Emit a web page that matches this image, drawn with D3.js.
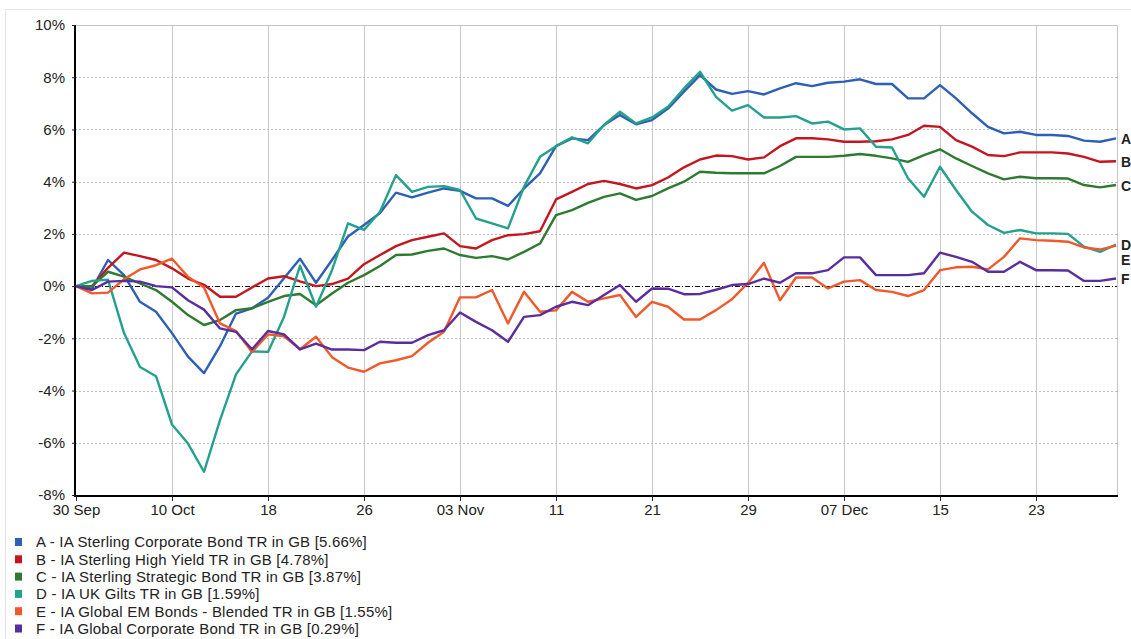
<!DOCTYPE html>
<html>
<head>
<meta charset="utf-8">
<script src="https://cdn.jsdelivr.net/npm/d3@7"></script>
<style>
  body { margin: 0; background: #fff; }
  svg { display: block; font-family: "Liberation Sans", Arial, sans-serif; }
</style>
</head>
<body>
<svg id="chart" width="1131" height="639"></svg>
<script>
// tick labels on the date axis (one tick every 6 trading days)
const tickIdx = [0, 6, 12, 18, 24, 30, 36, 42, 48, 54, 60];
const tickLabels = ['30 Sep', '10 Oct', '18', '26', '03 Nov', '11', '21', '29', '07 Dec', '15', '23'];
const yTicks = [10, 8, 6, 4, 2, 0, -2, -4, -6, -8];

const codes = ['A', 'B', 'C', 'D', 'E', 'F'];
const names = [
    'A - IA Sterling Corporate Bond TR in GB [5.66%]',
    'B - IA Sterling High Yield TR in GB [4.78%]',
    'C - IA Sterling Strategic Bond TR in GB [3.87%]',
    'D - IA UK Gilts TR in GB [1.59%]',
    'E - IA Global EM Bonds - Blended TR in GB [1.55%]',
    'F - IA Global Corporate Bond TR in GB [0.29%]'
];
const colors = ['#2c5fb5', '#c3161f', '#2f7a30', '#24a08d', '#f0592a', '#5a2d9f'];

// cumulative total return, % (one value per trading day)
const seriesA = [0, -0.1, 1.0, 0.42, -0.6, -0.98, -1.8, -2.7, -3.33, -2.3,
    -1.05, -0.85, -0.45, 0.3, 1.05, 0.13, 1.0, 1.9, 2.34, 2.8,
    3.58, 3.4, 3.58, 3.74, 3.65, 3.36, 3.36, 3.07, 3.74, 4.32,
    5.36, 5.66, 5.59, 6.17, 6.55, 6.2, 6.36, 6.8, 7.45, 8.08,
    7.53, 7.36, 7.47, 7.34, 7.57, 7.77, 7.66, 7.79, 7.83, 7.92,
    7.74, 7.74, 7.19, 7.19, 7.7, 7.19, 6.62, 6.1, 5.85, 5.91,
    5.79, 5.79, 5.75, 5.57, 5.53, 5.66];
const seriesB = [0, 0.0, 0.7, 1.28, 1.15, 1.0, 0.68, 0.29, 0.05, -0.41,
    -0.41, -0.05, 0.29, 0.38, 0.18, 0.0, 0.08, 0.29, 0.84, 1.19,
    1.53, 1.76, 1.89, 2.02, 1.53, 1.44, 1.76, 1.95, 1.99, 2.1,
    3.32, 3.61, 3.91, 4.03, 3.91, 3.74, 3.87, 4.16, 4.55, 4.85,
    5.0, 4.98, 4.85, 4.93, 5.36, 5.66, 5.66, 5.62, 5.53, 5.53,
    5.55, 5.62, 5.79, 6.14, 6.1, 5.59, 5.34, 5.02, 4.98, 5.12,
    5.12, 5.12, 5.08, 4.95, 4.76, 4.78];
const seriesC = [0, 0.0, 0.55, 0.36, 0.1, -0.15, -0.6, -1.11, -1.49, -1.3,
    -0.92, -0.85, -0.6, -0.38, -0.3, -0.73, -0.28, 0.13, 0.42, 0.77,
    1.19, 1.21, 1.35, 1.44, 1.19, 1.08, 1.15, 1.02, 1.31, 1.63,
    2.72, 2.91, 3.19, 3.42, 3.55, 3.3, 3.45, 3.74, 4.0, 4.38,
    4.34, 4.32, 4.32, 4.32, 4.6, 4.95, 4.95, 4.95, 4.99, 5.06,
    4.99, 4.89, 4.76, 5.02, 5.24, 4.89, 4.6, 4.32, 4.09, 4.19,
    4.13, 4.13, 4.12, 3.87, 3.78, 3.87];
const seriesD = [0, 0.2, 0.25, -1.8, -3.1, -3.45, -5.3, -6.03, -7.11, -5.13,
    -3.38, -2.5, -2.52, -1.18, 0.78, -0.79, 0.61, 2.4, 2.15, 2.85,
    4.25, 3.61, 3.8, 3.83, 3.68, 2.59, 2.4, 2.21, 3.8, 4.95,
    5.36, 5.7, 5.47, 6.17, 6.68, 6.23, 6.46, 6.87, 7.57, 8.21,
    7.25, 6.72, 6.93, 6.46, 6.46, 6.51, 6.23, 6.3, 6.0, 6.04,
    5.34, 5.31, 4.13, 3.42, 4.57, 3.68, 2.85, 2.34, 2.04, 2.15,
    2.02, 2.02, 2.0, 1.51, 1.31, 1.59];
const seriesE = [0, -0.28, -0.25, 0.26, 0.64, 0.8, 1.05, 0.36, -0.05, -1.43,
    -1.72, -2.52, -1.85, -1.92, -2.42, -1.94, -2.72, -3.12, -3.28, -2.96,
    -2.84, -2.68, -2.17, -1.75, -0.43, -0.43, -0.15, -1.43, -0.22, -0.98,
    -0.93, -0.22, -0.6, -0.47, -0.34, -1.18, -0.6, -0.79, -1.28, -1.28,
    -0.92, -0.5, 0.12, 0.89, -0.54, 0.33, 0.33, -0.09, 0.17, 0.23,
    -0.15, -0.22, -0.38, -0.15, 0.61, 0.72, 0.74, 0.64, 1.12, 1.83,
    1.76, 1.74, 1.7, 1.48, 1.4, 1.55];
const seriesF = [0, -0.15, 0.17, 0.2, 0.17, 0.0, -0.05, -0.54, -0.9, -1.62,
    -1.75, -2.42, -1.72, -1.85, -2.42, -2.2, -2.43, -2.43, -2.45, -2.13,
    -2.17, -2.17, -1.88, -1.69, -1.01, -1.37, -1.69, -2.13, -1.18, -1.11,
    -0.79, -0.6, -0.73, -0.34, 0.04, -0.6, -0.09, -0.1, -0.31, -0.3,
    -0.14, 0.04, 0.08, 0.29, 0.13, 0.49, 0.49, 0.61, 1.1, 1.1,
    0.42, 0.42, 0.42, 0.49, 1.28, 1.12, 0.93, 0.55, 0.55, 0.93,
    0.61, 0.61, 0.6, 0.2, 0.2, 0.29];

const allSeries = [seriesA, seriesB, seriesC, seriesD, seriesE, seriesF];

const draw = () => {
    const svg = d3.select('#chart');
    const left = 75, right = 1117, top = 25, bottom = 496;
    const nDays = seriesA.length;

    // x: trading day index -> pixels
    const x = d3.scaleLinear().domain([0, nDays - 1]).range([left + 1, right - 1]);
    const y = d3.scaleLinear().domain([-8, 10]).range([bottom - 1, top]);

    // faint outer frame
    svg.append('path')
        .attr('d', `M5.5,639 V9.5 H1131`)
        .attr('fill', 'none')
        .attr('stroke', '#e4e4e4');

    // vertical grid
    svg.append('g').selectAll('line')
        .data(tickIdx.slice(1))
        .enter().append('line')
        .attr('x1', d => Math.round(x(d)) + 0.5).attr('x2', d => Math.round(x(d)) + 0.5)
        .attr('y1', top).attr('y2', bottom)
        .attr('stroke', '#c9c9c9');

    // horizontal dotted grid
    svg.append('g').selectAll('line')
        .data(yTicks.filter(d => d !== 10 && d !== -8 && d !== 0))
        .enter().append('line')
        .attr('x1', left).attr('x2', right)
        .attr('y1', d => Math.round(y(d)) + 0.5).attr('y2', d => Math.round(y(d)) + 0.5)
        .attr('stroke', '#bdbdbd')
        .attr('stroke-dasharray', '2,2');

    // plot frame (top and right)
    svg.append('path')
        .attr('d', `M${left},${top + 0.5} H${right + 0.5} V${bottom}`)
        .attr('fill', 'none')
        .attr('stroke', '#c4c4c4');

    // zero line, dash-dot
    svg.append('line')
        .attr('x1', left).attr('x2', right)
        .attr('y1', Math.round(y(0)) + 0.5).attr('y2', Math.round(y(0)) + 0.5)
        .attr('stroke', '#111')
        .attr('stroke-dasharray', '5,2,1,2');

    // axes
    const xAxis = d3.axisBottom(x)
        .tickValues(tickIdx)
        .tickFormat((d, i) => tickLabels[i])
        .tickSize(5)
        .tickSizeOuter(0);
    const gx = svg.append('g').attr('transform', `translate(0,${bottom})`).call(xAxis);
    gx.select('.domain').attr('stroke', '#000').attr('stroke-width', 2).attr('d', `M${left - 1},0H${right + 1}`);
    gx.selectAll('.tick line').attr('stroke', '#222');
    gx.selectAll('text').attr('font-size', 15).attr('fill', '#222')
        .attr('font-family', '"Liberation Sans", Arial, sans-serif');

    const yAxis = d3.axisLeft(y)
        .tickValues(yTicks)
        .tickFormat(d => d + '%')
        .tickSize(3)
        .tickPadding(7)
        .tickSizeOuter(0);
    const gy = svg.append('g').attr('transform', `translate(${left},0)`).call(yAxis);
    gy.select('.domain').attr('stroke', '#000').attr('stroke-width', 2).attr('d', `M0,${top}V${bottom}`);
    gy.selectAll('.tick line').attr('stroke', '#222');
    gy.selectAll('text').attr('font-size', 15).attr('fill', '#222')
        .attr('font-family', '"Liberation Sans", Arial, sans-serif');

    // lines
    const line = d3.line()
        .x((d, i) => x(i))
        .y(d => y(d));

    svg.append('g').selectAll('path')
        .data(allSeries)
        .enter().append('path')
        .attr('d', line)
        .attr('fill', 'none')
        .attr('stroke', (d, i) => colors[i])
        .attr('stroke-width', 2.4)
        .attr('stroke-linejoin', 'round');

    // end labels, pushed apart when they collide
    const ends = allSeries.map((s, i) => ({ code: codes[i], y: y(s[s.length - 1]) }));
    const sorted = ends.slice().sort((a, b) => a.y - b.y);
    for (let i = 1; i < sorted.length; i++) {
        if (sorted[i].y - sorted[i - 1].y < 15) sorted[i].y = sorted[i - 1].y + 15;
    }
    svg.append('g').selectAll('text')
        .data(ends)
        .enter().append('text')
        .attr('x', right + 4)
        .attr('y', d => d.y + 1)
        .attr('dy', '0.35em')
        .attr('font-size', 14)
        .attr('font-weight', 'bold')
        .attr('fill', '#222')
        .text(d => d.code);

    // legend
    const legend = svg.append('g').selectAll('g')
        .data(names)
        .enter().append('g')
        .attr('transform', (d, i) => `translate(0,${542 + i * 17.3})`);
    legend.append('rect')
        .attr('x', 15).attr('y', -4)
        .attr('width', 7).attr('height', 8)
        .attr('fill', (d, i) => colors[i]);
    legend.append('text')
        .attr('x', 36)
        .attr('dy', '0.36em')
        .attr('font-size', 15)
        .attr('letter-spacing', 0.2)
        .attr('fill', '#222')
        .text(d => d);
};

document.addEventListener('DOMContentLoaded', draw);
</script>
</body>
</html>
